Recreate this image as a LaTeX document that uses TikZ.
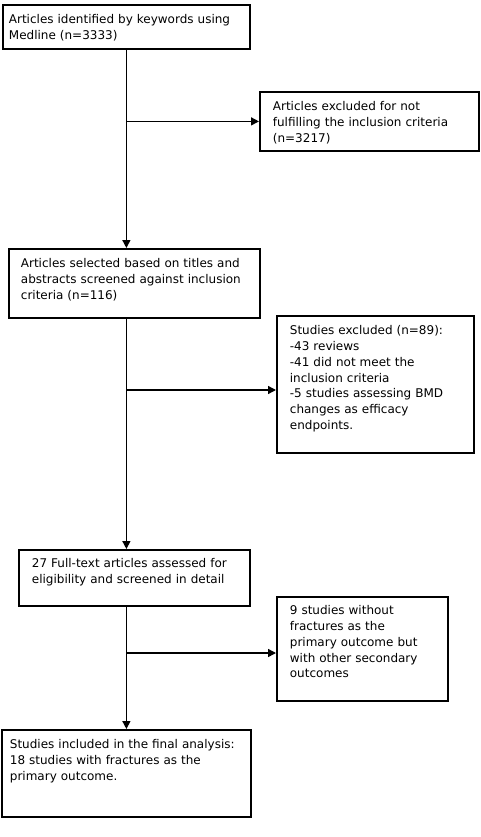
\documentclass[tikz,border=0pt]{standalone}
\usepackage{fontspec}
\setmainfont{DejaVu Sans}
\usetikzlibrary{arrows.meta}

\tikzset{
  flowbox/.style={draw, line width=1.8pt, anchor=north west, align=left,
    inner ysep=0pt, inner xsep=13pt, text height=19pt,
    font=\fontsize{12}{15.7}\selectfont},
  flowline/.style={line width=1.4pt},
  flowarrow/.style={flowline, -{Triangle[length=8pt,width=8pt]}},
}

\begin{document}
\begin{tikzpicture}[x=1pt, y=-1pt]
  \useasboundingbox (0,0) rectangle (480,837);
  \node[flowbox, inner xsep=6pt, text width=235pt, text depth=25pt] (ident) at (2,4)
    {Articles identified by keywords using\\Medline (n=3333)};
  \node[flowbox, text width=193pt, text depth=40pt] (excl1) at (259,91)
    {Articles excluded for not\\fulfilling the inclusion criteria\\(n=3217)};
  \node[flowbox, inner xsep=12pt, text width=227pt, text depth=50pt] (select) at (8,248)
    {Articles selected based on titles and\\abstracts screened against inclusion\\criteria (n=116)};
  \node[flowbox, text width=171pt, text depth=118pt] (excl2) at (276,315)
    {Studies excluded (n=89):\\-43 reviews\\-41 did not meet the\\inclusion criteria\\-5 studies assessing BMD\\changes as efficacy\\endpoints.};
  \node[flowbox, text width=205pt, text height=18pt, text depth=38pt] (full) at (18,549)
    {27 Full-text articles assessed for\\eligibility and screened in detail};
  \node[flowbox, text width=145pt, text height=18pt, text depth=86pt] (excl3) at (276,596)
    {9 studies without\\fractures as the\\primary outcome but\\with other secondary\\outcomes};
  \node[flowbox, inner xsep=8pt, text width=233pt, text depth=68pt] (incl) at (1,729)
    {Studies included in the final analysis:\\18 studies with fractures as the\\primary outcome.};

  \coordinate (j1) at (ident.south |- excl1.west);
  \coordinate (j2) at (ident.south |- 0,390);
  \coordinate (j3) at (ident.south |- 0,653);

  \draw[flowarrow] (ident.south) -- (ident.south |- select.north);
  \draw[flowarrow] (ident.south |- select.south) -- (ident.south |- full.north);
  \draw[flowarrow] (ident.south |- full.south) -- (ident.south |- incl.north);
  \draw[flowarrow] (j1) -- (excl1.west);
  \draw[flowarrow] (j2) -- (j2 -| excl2.west);
  \draw[flowarrow] (j3) -- (j3 -| excl3.west);
\end{tikzpicture}
\end{document}
